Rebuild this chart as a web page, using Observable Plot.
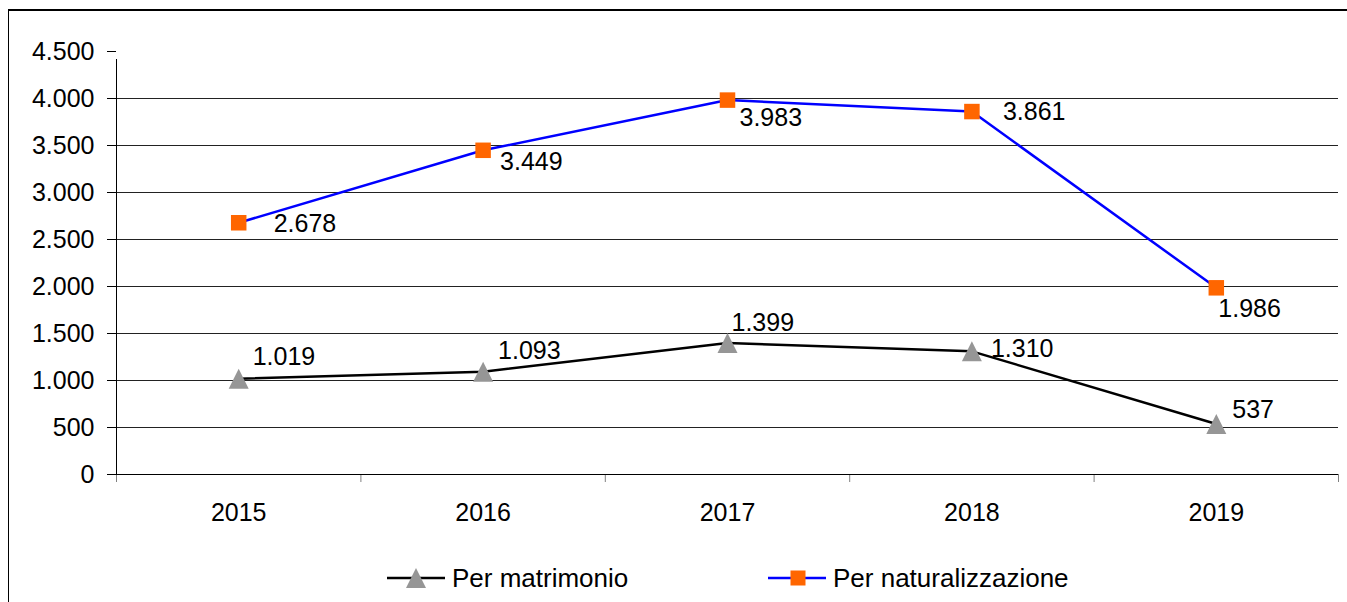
<!DOCTYPE html>
<html><head><meta charset="utf-8">
<script src="https://cdn.jsdelivr.net/npm/d3@7"></script>
<script src="https://cdn.jsdelivr.net/npm/@observablehq/plot@0.6"></script>
<style>
body{margin:0;background:#fff;font-family:"Liberation Sans",Arial,sans-serif;}
#wrap{position:relative;width:1347px;height:602px;overflow:hidden;background:#fff;}
#frame{position:absolute;left:8px;top:9px;width:1400px;height:700px;border-left:1px solid #000;border-top:2px solid #000;}
#chart{position:absolute;left:0;top:0;}
.leg{position:absolute;top:566px;height:24px;display:flex;align-items:center;font-size:26px;color:#000;white-space:nowrap;}
.leg svg{display:block;}
</style></head>
<body><div id="wrap"><div id="frame"></div><div id="chart"></div><div id="legend"></div></div>
<script>
// ---- data ----
const years = [2015, 2016, 2017, 2018, 2019];
const matrimonio = [1019, 1093, 1399, 1310, 537];
const naturalizzazione = [2678, 3449, 3983, 3861, 1986];
const seriesNames = ["Per matrimonio", "Per naturalizzazione"];
const yTicks = [0, 500, 1000, 1500, 2000, 2500, 3000, 3500, 4000, 4500];

// label placement offsets (pixels, relative to the point)
const natLabelDx = [35, 17, 12, 31, 2];
const natLabelDy = [1, 12, 18, 0, 21];
const matLabelDx = [14, 15, 4, 19, 16];
const matLabelDy = [-22, -21, -20, -2, -14];

const fmt = d3.formatLocale({decimal: ",", thousands: ".", grouping: [3], currency: ["", "€"]}).format(",");

const natData = years.map((year, i) => ({year, value: naturalizzazione[i]}));
const matData = years.map((year, i) => ({year, value: matrimonio[i]}));
const boundaries = [...years.map(y => y - 0.5), years[years.length - 1] + 0.5];

const triangle = {
  draw(context, size) {
    const a = Math.sqrt(size) / 2;
    context.moveTo(0, -a);
    context.lineTo(a, a);
    context.lineTo(-a, a);
    context.closePath();
  }
};

const labelMarks = [];
natData.forEach((d, i) => labelMarks.push(Plot.text([d], {x: "year", y: "value", text: d => fmt(d.value), textAnchor: "start", dx: natLabelDx[i], dy: natLabelDy[i], fontSize: 25, fill: "#000"})));
matData.forEach((d, i) => labelMarks.push(Plot.text([d], {x: "year", y: "value", text: d => fmt(d.value), textAnchor: "start", dx: matLabelDx[i], dy: matLabelDy[i], fontSize: 25, fill: "#000"})));

const chart = Plot.plot({
  width: 1347,
  height: 540,
  marginLeft: 116,
  marginRight: 9,
  marginTop: 51,
  marginBottom: 66,
  style: {fontFamily: "'Liberation Sans', Arial, sans-serif", fontSize: "25px", color: "#000", background: "transparent", overflow: "visible"},
  x: {type: "linear", domain: [years[0] - 0.5, years[years.length - 1] + 0.5]},
  y: {domain: [0, 4500]},
  marks: [
    Plot.gridY(yTicks.filter(v => v > 0 && v < 4500), {stroke: "#222", strokeOpacity: 1}),
    Plot.axisY(yTicks, {tickSize: 9, tickPadding: 13, tickFormat: fmt, fontSize: 25, fill: "#000", stroke: "#000", label: null}),
    Plot.axisX(boundaries, {tickSize: 8, tickFormat: () => "", stroke: "#808080", label: null}),
    Plot.axisX(years, {tickSize: 0, tickPadding: 29, tickFormat: d => String(d), fontSize: 25, fill: "#000", label: null}),
    Plot.ruleY([0], {stroke: "#000"}),
    Plot.ruleX([years[0] - 0.5], {y1: 0, y2: 4500, insetBottom: -8, stroke: "#000"}),
    Plot.line(natData, {x: "year", y: "value", stroke: "#0000ff", strokeWidth: 2.5}),
    Plot.line(matData, {x: "year", y: "value", stroke: "#000", strokeWidth: 2.5}),
    Plot.dot(natData, {x: "year", y: "value", symbol: "square", r: 8.75, fill: "#ff6600", stroke: "none"}),
    Plot.dot(matData, {x: "year", y: "value", symbol: triangle, r: 11.3, dy: 0, fill: "#969696", stroke: "none"}),
    ...labelMarks
  ]
});
document.getElementById("chart").appendChild(chart);

// legend
const legend = document.getElementById("legend");
function legItem(left, lineColor, marker, name, gap) {
  const div = document.createElement("div");
  div.className = "leg";
  div.style.left = left + "px";
  const ns = "http://www.w3.org/2000/svg";
  const svg = document.createElementNS(ns, "svg");
  svg.setAttribute("width", 58); svg.setAttribute("height", 24);
  const line = document.createElementNS(ns, "line");
  line.setAttribute("x1", 0); line.setAttribute("x2", 58); line.setAttribute("y1", 12); line.setAttribute("y2", 12);
  line.setAttribute("stroke", lineColor); line.setAttribute("stroke-width", 2.5);
  svg.appendChild(line);
  svg.appendChild(marker(ns));
  div.appendChild(svg);
  const span = document.createElement("span");
  span.textContent = name;
  span.style.marginLeft = gap + "px";
  div.appendChild(span);
  legend.appendChild(div);
}
legItem(387, "#000", ns => { const p = document.createElementNS(ns, "path"); p.setAttribute("d", "M29,2L39,22L19,22Z"); p.setAttribute("fill", "#969696"); return p; }, seriesNames[0], 7);
legItem(768, "#0000ff", ns => { const r = document.createElementNS(ns, "rect"); r.setAttribute("x", 22.5); r.setAttribute("y", 4.5); r.setAttribute("width", 15); r.setAttribute("height", 15); r.setAttribute("fill", "#ff6600"); return r; }, seriesNames[1], 7);
</script>
</body></html>
